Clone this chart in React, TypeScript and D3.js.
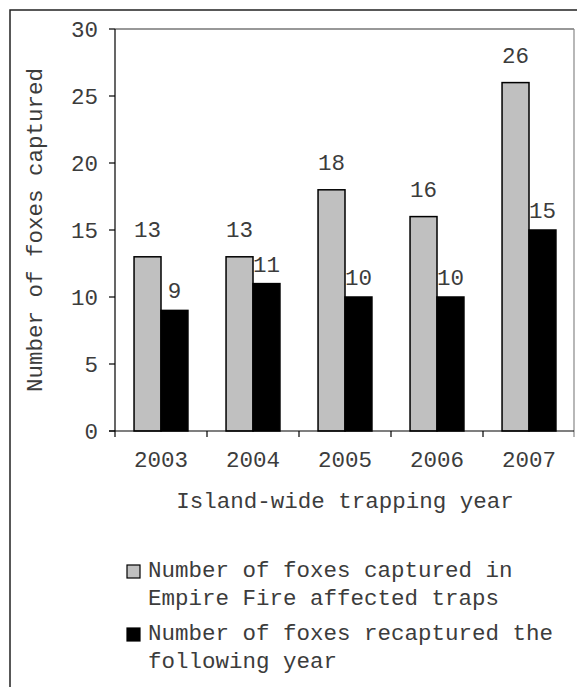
import React from "react";
import * as d3 from "d3";

const years = ["2003", "2004", "2005", "2006", "2007"];
const captured = [13, 13, 18, 16, 26];
const recaptured = [9, 11, 10, 10, 15];
const yTicks = [0, 5, 10, 15, 20, 25, 30];
const seriesNames = ["captured", "recaptured"];
const legendLines = [
  ["Number of foxes captured in", "Empire Fire affected traps"],
  ["Number of foxes recaptured the", "following year"],
];

const W = 577;
const H = 687;
const FONT = "'Liberation Mono', 'Courier New', monospace";
const TXT = "#3c3c3c";
const FS = 22.5;

export default function App() {
  const left = 115, right = 574, top = 29, bottom = 431;
  const x = d3.scaleBand<string>().domain(years).range([left, right + 1]).padding(0);
  const inner = d3
    .scaleBand<string>()
    .domain(seriesNames)
    .range([x.bandwidth() * 0.207, x.bandwidth() * 0.793])
    .padding(0);
  const y = d3.scaleLinear().domain([0, 30]).range([bottom, top]);
  const colors = ["#c0c0c0", "#000000"];
  const labelOff = [20, 12];
  const data = [captured, recaptured];
  const boundaries = years.map((yr) => x(yr)!).concat([right]);

  return (
    <svg
      width={W}
      height={H}
      style={{ position: "absolute", left: 0, top: 0, background: "#fff" }}
      fontFamily={FONT}
    >
      <rect x={10} y={10} width={W + 20} height={H + 20} fill="none" stroke="#222" strokeWidth={1.5} />
      {/* plot frame */}
      <line x1={left} x2={right} y1={top} y2={top} stroke="#333" strokeWidth={1.2} />
      <line x1={right} x2={right} y1={top} y2={bottom + 6} stroke="#888" strokeWidth={1.2} />
      {/* bars */}
      {data.map((vals, si) =>
        vals.map((v, i) => {
          const bx = x(years[i])! + inner(seriesNames[si])!;
          const by = y(v);
          return (
            <g key={`${si}-${i}`}>
              <rect
                x={bx}
                y={by}
                width={inner.bandwidth()}
                height={bottom - by}
                fill={colors[si]}
                stroke="#000"
                strokeWidth={1.5}
              />
              <text
                x={bx + inner.bandwidth() / 2}
                y={by - labelOff[si]}
                textAnchor="middle"
                fontSize={FS}
                fill={TXT}
              >
                {v}
              </text>
            </g>
          );
        })
      )}
      {/* axes */}
      <line x1={left} x2={left} y1={top} y2={bottom + 6} stroke="#000" strokeWidth={1.2} />
      <line x1={left - 6} x2={right} y1={bottom} y2={bottom} stroke="#000" strokeWidth={1.2} />
      {yTicks.map((t) => (
        <g key={t}>
          <line x1={left - 6} x2={left} y1={y(t)} y2={y(t)} stroke="#000" strokeWidth={1.2} />
          <text x={98} y={y(t)} dy="0.35em" textAnchor="end" fontSize={FS} fill={TXT}>
            {t}
          </text>
        </g>
      ))}
      {boundaries.slice(1, -1).map((b, i) => (
        <line key={i} x1={b} x2={b} y1={bottom} y2={bottom + 6} stroke="#000" strokeWidth={1.2} />
      ))}
      {years.map((yr) => (
        <text
          key={yr}
          x={x(yr)! + x.bandwidth() / 2}
          y={467}
          textAnchor="middle"
          fontSize={FS}
          fill={TXT}
        >
          {yr}
        </text>
      ))}
      <text x={345} y={508} textAnchor="middle" fontSize={FS} fill={TXT}>
        Island-wide trapping year
      </text>
      <text
        transform={`translate(42, ${(top + bottom) / 2}) rotate(-90)`}
        textAnchor="middle"
        fontSize={FS}
        fill={TXT}
      >
        Number of foxes captured
      </text>
      {/* legend */}
      {legendLines.map((lines, li) => (
        <g key={li}>
          <rect
            x={127}
            y={565 + li * 63}
            width={13}
            height={13}
            fill={colors[li]}
            stroke="#000"
            strokeWidth={1.2}
          />
          {lines.map((ln, k) => (
            <text key={k} x={148} y={577 + li * 63 + k * 28} fontSize={FS} fill={TXT}>
              {ln}
            </text>
          ))}
        </g>
      ))}
    </svg>
  );
}
